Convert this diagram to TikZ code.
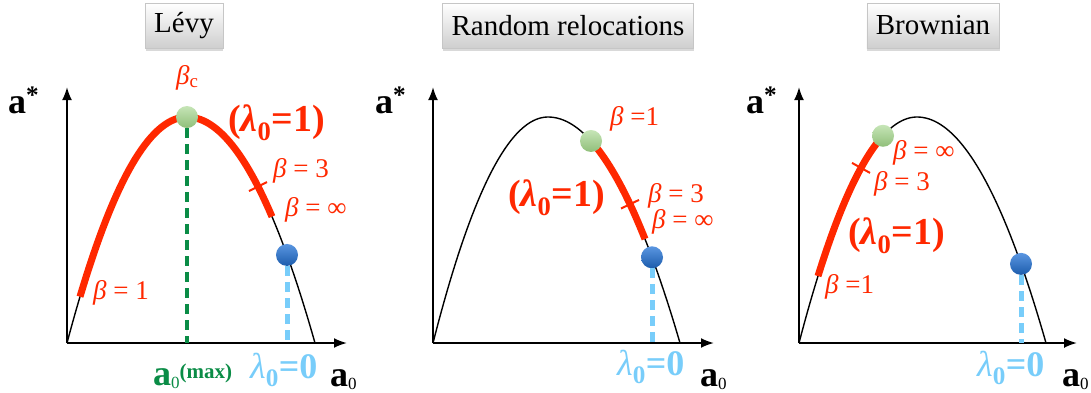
\documentclass[tikz,border=0pt]{standalone}
\usepackage{fontspec}
\setmainfont{Liberation Serif}
\usepackage{tikz}
\usetikzlibrary{arrows.meta,shadows}
\definecolor{curvered}{RGB}{255,40,0}
\definecolor{maxgreen}{RGB}{10,140,70}
\definecolor{zeroblue}{RGB}{120,205,250}
\definecolor{dotgreen}{RGB}{160,212,135}
\definecolor{dotblue}{RGB}{35,115,215}
\newcommand{\fs}[1]{\fontsize{#1}{#1}\selectfont}
\newcommand{\azero}{a\raisebox{-3pt}{\fs{17}\mdseries 0}}
% a* versus a0: left root, peak, right root
\pgfmathdeclarefunction{hump}{4}{\pgfmathparse{343-226*(1-((#1-#3)/((#1<#3)?(#3-#2):(#4-#3)))^2)}}

\begin{document}
\begin{tikzpicture}[x=1pt,y=-1pt,
		title/.style={draw=gray!45, line width=0.4pt, top color=white, bottom color=gray!38,
					drop shadow={opacity=0.3, shadow xshift=0.5pt, shadow yshift=-2.5pt},
					minimum height=45pt, inner xsep=9pt, font=\fs{29}},
		axis/.style={line width=2pt, -{Latex[length=13pt,width=10pt]}},
		curve/.style={line width=1.4pt},
		hot/.style={line width=7pt, curvered},
		tick/.style={line width=2pt, curvered},
		lbl/.style={font=\fs{27}, text=curvered, inner sep=0pt, anchor=base west},
		lam/.style={font=\fs{38}\bfseries, text=curvered, inner sep=0pt, anchor=base west},
		zero/.style={font=\fs{36}\bfseries, text=zeroblue, inner sep=0pt, anchor=base west},
		axlbl/.style={font=\fs{36}\bfseries, inner sep=0pt, anchor=base west},
		gdot/.style={circle, minimum size=22pt, inner sep=0pt, top color=dotgreen!60!white, bottom color=dotgreen!90!black},
		bdot/.style={circle, minimum size=22pt, inner sep=0pt, top color=dotblue!75!white, bottom color=dotblue!80!black},
		maxline/.style={line width=4pt, maxgreen, dash pattern=on 10pt off 6pt},
		zeroline/.style={line width=5pt, zeroblue, dash pattern=on 10pt off 6pt}
	]
	\useasboundingbox (0,0) rectangle (1091,392);

	% Levy
	\node[title] (t1) at (184,25.5) {Lévy};
	\coordinate (o1) at (67,343);
	\coordinate (x1) at (347,343);
	\coordinate (y1) at (67,87);
	\draw[axis] (o1) -- (x1);
	\draw[axis] (o1) -- (y1);
	\draw[curve] plot[domain=67:315,samples=90] (\x,{hump(\x,67,187,315)});
	\draw[hot] plot[domain=80:272,samples=60] (\x,{hump(\x,67,187,315)});
	\coordinate (k1) at (258,{hump(258,67,187,315)});
	\draw[tick] (k1) ++(-9,4.5) -- ++(18,-9);
	\node[gdot] (g1) at (187,{hump(187,67,187,315)}) {};
	\draw[maxline] (g1.south) -- (g1 |- o1);
	\node[bdot] (b1) at (287,{hump(287,67,187,315)}) {};
	\draw[zeroline] (b1.south) -- (b1 |- o1);
	\node[lbl] (bc1) at (176,84) {\textit{β}\textsubscript{c}};
	\node[lam] (l1) at (228,131) {(\textit{λ}\textsubscript{0}=1)};
	\node[lbl] (b31) at (273,177) {\textit{β} = 3};
	\node[lbl] (bi1) at (285,216) {\textit{β} = ∞};
	\node[lbl] (b11) at (93,299) {\textit{β} = 1};
	\node[zero] (z1) at (250,378) {{\mdseries\textit{λ}}\textsubscript{0}=0};
	\node[axlbl, text=maxgreen] (m1) at (153,385) {\azero\raisebox{7pt}{\fs{21}(max)}};
	\node[axlbl] (a1) at (330,386) {\azero};
	\node[axlbl] (s1) at (8,113) {a\textsuperscript{*}};

	% Random relocations
	\node[title] (t2) at (568,25.5) {Random relocations};
	\coordinate (o2) at (433,343);
	\coordinate (x2) at (714,343);
	\coordinate (y2) at (433,87);
	\draw[axis] (o2) -- (x2);
	\draw[axis] (o2) -- (y2);
	\draw[curve] plot[domain=433:680,samples=90] (\x,{hump(\x,433,548,680)});
	\draw[hot] plot[domain=591:645,samples=30] (\x,{hump(\x,433,548,680)});
	\coordinate (k2) at (630,{hump(630,433,548,680)});
	\draw[tick] (k2) ++(-9,4.3) -- ++(18,-8.6);
	\node[gdot] (g2) at (591,{hump(591,433,548,680)}) {};
	\node[bdot] (b2) at (652,{hump(652,433,548,680)}) {};
	\draw[zeroline] (b2.south) -- (b2 |- o2);
	\node[lbl] (b12) at (610,125) {\textit{β} =1};
	\node[lam] (l2) at (508,206) {(\textit{λ}\textsubscript{0}=1)};
	\node[lbl] (b32) at (648,202) {\textit{β} = 3};
	\node[lbl] (bi2) at (652,228) {\textit{β} = ∞};
	\node[zero] (z2) at (617,375) {{\mdseries\textit{λ}}\textsubscript{0}=0};
	\node[axlbl] (a2) at (700,386) {\azero};
	\node[axlbl] (s2) at (375,113) {a\textsuperscript{*}};

	% Brownian
	\node[title] (t3) at (933,25.5) {Brownian};
	\coordinate (o3) at (799,343);
	\coordinate (x3) at (1077,343);
	\coordinate (y3) at (799,87);
	\draw[axis] (o3) -- (x3);
	\draw[axis] (o3) -- (y3);
	\draw[curve] plot[domain=799:1046,samples=90] (\x,{hump(\x,799,917,1046)});
	\draw[hot] plot[domain=818:883,samples=30] (\x,{hump(\x,799,917,1046)});
	\coordinate (k3) at (861,{hump(861,799,917,1046)});
	\draw[tick] (k3) ++(-9,-5) -- ++(18,10);
	\node[gdot] (g3) at (883,{hump(883,799,917,1046)}) {};
	\node[bdot] (b3) at (1021,{hump(1021,799,917,1046)}) {};
	\draw[zeroline] (b3.south) -- (b3 |- o3);
	\node[lbl] (bi3) at (893,159) {\textit{β} = ∞};
	\node[lbl] (b33) at (874,190) {\textit{β} = 3};
	\node[lam] (l3) at (848,244) {(\textit{λ}\textsubscript{0}=1)};
	\node[lbl] (b13) at (825,293) {\textit{β} =1};
	\node[zero] (z3) at (977,376) {{\mdseries\textit{λ}}\textsubscript{0}=0};
	\node[axlbl] (a3) at (1062,386) {\azero};
	\node[axlbl] (s3) at (746,113) {a\textsuperscript{*}};
\end{tikzpicture}
\end{document}
